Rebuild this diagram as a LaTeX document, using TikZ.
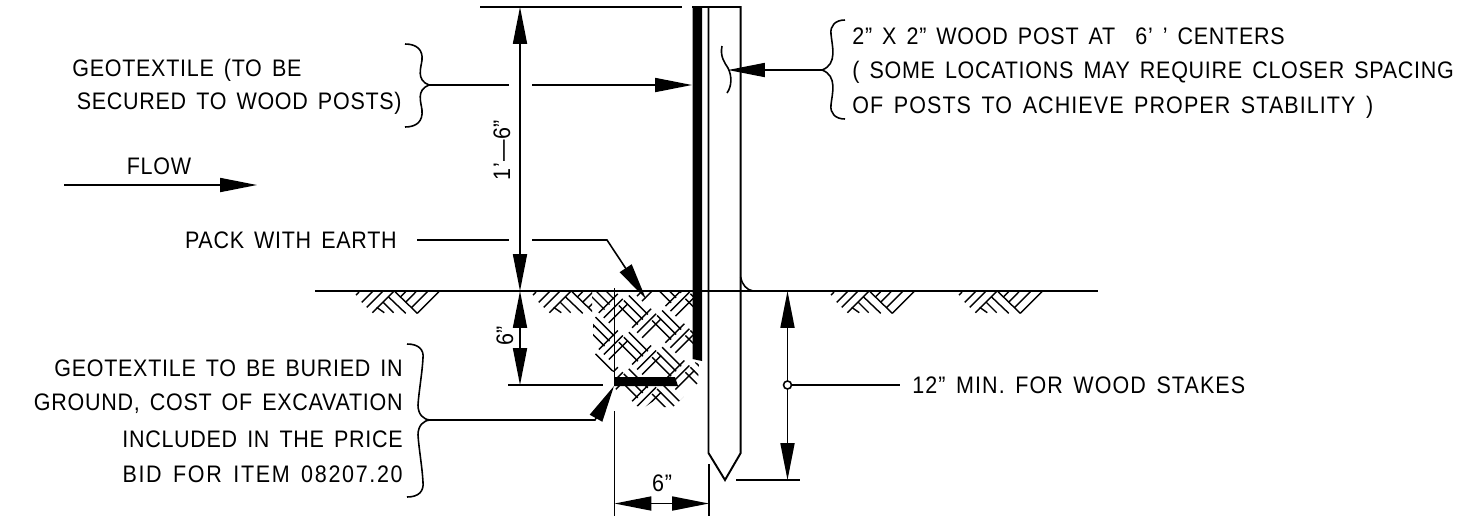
\documentclass[tikz,border=0pt]{standalone}
\usepackage{fontspec}
\setmainfont{Liberation Sans}[LetterSpace=3,WordSpace=1.5,FakeStretch=0.9]
\usepackage{tikz}
\usetikzlibrary{arrows.meta}

\tikzset{
    thinline/.style={line width=0.9pt},
    hatchline/.style={line width=0.8pt},
    dimarrow/.style={thinline,-{Triangle[length=21pt,width=8pt]}},
    dimboth/.style={thinline,{Triangle[length=21pt,width=8pt]}-{Triangle[length=21pt,width=8pt]}},
    label/.style={inner sep=0pt,font=\fontsize{13.6pt}{15pt}\selectfont},
    earthmark/.pic={
        \draw[hatchline] (1,4) -- (4,1) (6.7,11.3) -- (17.3,0.7) (11.7,16.3) -- (27.3,0.7) (17.3,21.7) -- (38.3,0.7);
        \draw[hatchline] (21.7,16.3) -- (29.3,21.7) (28.3,11.3) -- (38.7,21.7) (33.3,5.7) -- (50.7,22.3) (40,0.7) -- (62.3,22.3);
        \draw[hatchline] (45.7,5.7) -- (50.7,0.7) (50.7,11.3) -- (61,0.7) (56.7,16.3) -- (72.3,0.7) (62.3,22.3) -- (84,0.7);
    },
    blockse/.pic={
        \foreach \s in {-1,0,1}
            \draw[hatchline] ({-9.5+5*\s},{-9.5-5*\s}) -- ({9.5+5*\s},{9.5-5*\s});
    },
    blockne/.pic={
        \foreach \s in {-1,0,1}
            \draw[hatchline] ({-9.5+5*\s},{9.5+5*\s}) -- ({9.5+5*\s},{-9.5+5*\s});
    }
}

\begin{document}
\begin{tikzpicture}[x=0.02cm,y=-0.02cm]
    \useasboundingbox (0,0) rectangle (1468,522);

    % earth
    \draw[line width=1.4pt] (315,291) -- (1098,291);
    \foreach \xpos in {355,830,958}
        \pic at (\xpos,291) {earthmark};
    \begin{scope}
        \clip (532,291) rectangle (592,315);
        \pic at (532,291) {earthmark};
    \end{scope}
    \begin{scope}
        \clip (592,292) -- (693,292) -- (693,361) -- (699,364) -- (698,383) -- (673,407) -- (662,407) -- (655,400)
            -- (645,407) -- (635,406) -- (623,402) -- (614,386) -- (614,372) -- (605,368) -- (593,356) -- (593,322) -- cycle;
        \foreach \i in {-2,...,3} {
            \foreach \j in {-2,...,5} {
                \pgfmathsetmacro\cx{633.3+33.3*\i}
                \pgfmathsetmacro\cy{310+15*\i+36.7*\j}
                \pic at (\cx,\cy) {blockse};
                \pic at ({\cx+13.3},{\cy+13.3}) {blockne};
            }
        }
    \end{scope}

    % post
    \coordinate (posttl) at (708.5,7);
    \coordinate (posttr) at (740.7,7);
    \coordinate (postbl) at (708.5,453);
    \coordinate (postbr) at (740.7,453);
    \coordinate (posttip) at (725,480);
    \draw[line width=1.1pt] (692,7) -- (posttr) -- (postbr) -- (posttip) -- (postbl) -- (posttl);
    \draw[thinline] (722,46) .. controls (720,56) and (724,62) .. (728,68) .. controls (732,76) and (732,86) .. (727,93);
    \draw[thinline] (740.7,277) .. controls (742,285) and (747,290) .. (753,291);

    % geotextile
    \fill (692.5,7) -- (702,7) -- (702,361) -- (692.5,359) -- cycle;
    \fill (614,377) -- (675,377) -- (678,386) -- (614,386) -- cycle;
    \draw[thinline] (614.5,288) -- (614.5,386);

    % height dimensions
    \draw[thinline] (480,7) -- (682,7);
    \draw[dimboth] (520,7) -- (520,291);
    \draw[dimboth] (520,291) -- (520,385);
    \draw[thinline] (508,385) -- (603,385);
    \node[label,rotate=90] (tallsize) at (502,150) {1'---6''};
    \node[label,rotate=90] (lowsize) at (505,336) {6''};

    % width dimension
    \draw[thinline] (614.5,411) -- (614.5,516);
    \draw[thinline] (709,464) -- (709,516);
    \draw[dimarrow] (652,503.5) -- (614.5,503.5);
    \draw[dimarrow] (672,503.5) -- (709,503.5);
    \draw[thinline] (652,503.5) -- (672,503.5);
    \node[label] (widthsize) at (662,483) {6''};

    % stake depth
    \draw[thinline] (736,480) -- (800,480);
    \draw[dimboth] (787.5,291) -- (787.5,480);
    \fill[white] (787.5,385) circle (4);
    \draw[thinline] (787.5,385) circle (4);
    \node[label,anchor=west] (depth) at (912,385) {\addfontfeature{LetterSpace=4.5}12'' MIN. FOR WOOD STAKES};
    \draw[thinline] (791.5,385) -- (900,385);

    % flow
    \node[label] (flow) at (159,166) {FLOW};
    \draw[dimarrow] (64,185) -- (257,185);

    % upper left note
    \node[label,anchor=west] (geotop) at (72,70) {GEOTEXTILE (TO BE};
    \node[label,anchor=east] (geobot) at (402,103) {SECURED TO WOOD POSTS)};
    \draw[thinline] (405,44) .. controls (417,44) and (423,50) .. (422,60) .. controls (421,68) and (416,80) .. (429,85)
        .. controls (416,90) and (421,102) .. (422,110) .. controls (423,121) and (417,127) .. (405,127);
    \draw[thinline] (429,85) -- (509,85);
    \draw[dimarrow] (532,85) -- (692,85);

    % pack note
    \node[label,anchor=east] (pack) at (397,240) {PACK WITH EARTH};
    \draw[thinline] (417,240) -- (509,240);
    \draw[dimarrow] (532,240) -- (607,240) -- (646,299);

    % buried note
    \node[label,anchor=east] (buryone) at (403,368) {GEOTEXTILE TO BE BURIED IN};
    \node[label,anchor=east] (burytwo) at (403,404) {GROUND, COST OF EXCAVATION};
    \node[label,anchor=east] (burythree) at (403,439) {INCLUDED IN THE PRICE};
    \node[label,anchor=east] (buryfour) at (403,474) {\addfontfeature{LetterSpace=7}BID FOR ITEM 08207.20};
    \draw[thinline] (407,344) .. controls (419,344) and (424,350) .. (423,358) .. controls (422,375) and (419,390) .. (418,405)
        .. controls (418,414) and (423,420) .. (431,420) .. controls (423,420) and (418,426) .. (418,435)
        .. controls (419,450) and (422,465) .. (423,482) .. controls (424,491) and (419,497) .. (407,497);
    \draw[dimarrow] (431,420) -- (595,420) -- (614,386);

    % post note
    \node[label,anchor=west] (postone) at (852,36) {2'' X 2'' WOOD POST AT \ 6' ' CENTERS};
    \node[label,anchor=west] (posttwo) at (852,72) {( SOME LOCATIONS MAY REQUIRE CLOSER SPACING};
    \node[label,anchor=west] (postthree) at (852,107) {\addfontfeature{LetterSpace=4.5}OF POSTS TO ACHIEVE PROPER STABILITY )};
    \draw[thinline] (845,20) .. controls (835,20) and (830,26) .. (831,34) .. controls (832,46) and (838,64) .. (822,70)
        .. controls (838,76) and (832,94) .. (831,105) .. controls (830,113) and (835,119) .. (845,119);
    \draw[dimarrow] (822,70) -- (728,70);
\end{tikzpicture}
\end{document}
